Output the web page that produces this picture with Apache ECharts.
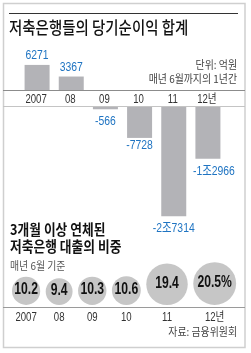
<!DOCTYPE html>
<html>
<head>
<meta charset="utf-8">
<script src="https://cdn.jsdelivr.net/npm/echarts@6/dist/echarts.min.js"></script>
<style>
  html, body { margin: 0; padding: 0; background: #fff; }
  #chart { width: 251px; height: 353px; }
</style>
</head>
<body>
<div id="chart"></div>
<script>
// 당기순이익 (억원), 매년 6월까지의 1년간
const incomeYears = ['2007', '08', '09', '10', '11', '12년'];
const netIncome = [6271, 3367, -566, -7728, -27314, -12966];

// 3개월 이상 연체 대출 비중 (%), 매년 6월 기준
const shareYears = ['2007', '08', '09', '10', '11', '12년'];
const shareValues = [10.2, 9.4, 10.3, 10.6, 19.4, 20.5];

const NUM = "'Liberation Sans', Arial, 'Noto Sans CJK KR', sans-serif";
const KR = "'Noto Sans CJK KR', sans-serif";
const BLUE = '#1f74c2';
const BAR = '#b3b3b7';
const BUBBLE = '#c6c6c6';

function fmtWon(v) {
  const a = Math.abs(v);
  const s = v < 0 ? '-' : '';
  if (a >= 10000) return s + Math.floor(a / 10000) + '조' + (a % 10000);
  return s + a;
}

// bubble diameter from value, bubbles packed left to right
function bubbleSize(v) {
  return 7 * Math.pow(v, 0.6);
}
const bubbleGap = 5.5;
const bubbleX = [];
let edge = 12;
shareValues.forEach(v => {
  const d = bubbleSize(v);
  bubbleX.push(edge + d / 2);
  edge += d + bubbleGap;
});

function txt(text, x, y, opts) {
  opts = opts || {};
  const align = opts.align || 'left';
  return {
    type: 'text',
    x: x,
    y: y,
    scaleX: opts.scaleX || 1,
    z: 10,
    style: {
      text: text,
      fill: opts.color || '#222',
      fontSize: opts.size || 11,
      fontFamily: opts.family || KR,
      fontWeight: opts.weight || 'normal',
      align: align,
      textAlign: align,
      verticalAlign: 'middle',
      textVerticalAlign: 'middle'
    }
  };
}

function hline(y, x1, x2, color, w) {
  return {
    type: 'line',
    shape: { x1: x1, y1: y, x2: x2, y2: y },
    style: { stroke: color, lineWidth: w || 1 },
    z: 1
  };
}

const chart = echarts.init(document.getElementById('chart'), null, { renderer: 'canvas' });

const option = {
  backgroundColor: '#fff',
  animation: false,
  grid: [
    { left: 20, width: 205, top: 60, height: 30 },
    { left: 20, width: 205, top: 107, height: 120 },
    { left: 0, width: 251, top: 250, height: 55 }
  ],
  xAxis: [
    { gridIndex: 0, type: 'category', data: incomeYears, show: false },
    { gridIndex: 1, type: 'category', data: incomeYears, show: false },
    { gridIndex: 2, type: 'value', min: 0, max: 251, show: false }
  ],
  yAxis: [
    { gridIndex: 0, type: 'value', min: 0, max: 7500, show: false },
    { gridIndex: 1, type: 'value', min: -30000, max: 0, show: false },
    { gridIndex: 2, type: 'value', min: 0, max: 1, show: false }
  ],
  series: [
    {
      type: 'bar', xAxisIndex: 0, yAxisIndex: 0, barWidth: 25,
      itemStyle: { color: BAR },
      data: netIncome.map(v => (v > 0 ? v : '-'))
    },
    {
      type: 'bar', xAxisIndex: 1, yAxisIndex: 1, barWidth: 25,
      itemStyle: { color: BAR },
      data: netIncome.map(v => (v < 0 ? v : '-'))
    },
    {
      type: 'scatter', xAxisIndex: 2, yAxisIndex: 2,
      itemStyle: { color: BUBBLE, opacity: 1 },
      data: shareValues.map((v, i) => {
        const d = bubbleSize(v);
        return { value: [bubbleX[i], 0], symbolSize: d, symbolOffset: [0, -d / 2] };
      })
    }
  ]
};

chart.setOption(option);

// labels drawn as text elements (narrowed), placed through the axes
const labels = [];
netIncome.forEach((v, i) => {
  const pos = v > 0;
  const p = chart.convertToPixel({ xAxisIndex: pos ? 0 : 1, yAxisIndex: pos ? 0 : 1 }, [i, v]);
  let y = pos ? p[1] - 9.5 : p[1] + 12.5;
  let x = p[0];
  if (i === 3) y -= 5;
  if (i === 5) x += 6;
  labels.push(txt(fmtWon(v), x, y, { align: 'center', size: 13, scaleX: 0.8, color: BLUE, family: NUM }));
  const base = chart.convertToPixel({ xAxisIndex: 0, yAxisIndex: 0 }, [i, 0]);
  labels.push(txt(incomeYears[i], base[0] - 1, base[1] + 10, { align: 'center', size: 12, scaleX: 0.8, color: '#333', family: NUM }));
});
shareValues.forEach((v, i) => {
  const d = bubbleSize(v);
  const p = chart.convertToPixel({ xAxisIndex: 2, yAxisIndex: 2 }, [bubbleX[i], 0]);
  const t = v.toFixed(1) + (i === shareValues.length - 1 ? '%' : '');
  labels.push(txt(t, p[0], p[1] - d / 2 - 1, { align: 'center', size: 16, scaleX: 0.76, color: '#111', weight: 'bold', family: NUM }));
  labels.push(txt(shareYears[i], p[0], p[1] + 13, { align: 'center', size: 12, scaleX: 0.8, color: '#333', family: NUM }));
});

const decor = [
  {
    type: 'rect', z: 0,
    shape: { x: 3.5, y: 3.5, width: 241.5, height: 344 },
    style: { fill: 'none', stroke: '#cfcfcf', lineWidth: 1.5 }
  },
  hline(13.5, 9, 238, '#333', 1),
  txt('저축은행들의 당기순이익 합계', 9, 28, { size: 17, scaleX: 0.85, color: '#111', weight: 500 }),
  txt('단위: 억원', 237, 65, { align: 'right', size: 11, scaleX: 0.9, color: '#444' }),
  txt('매년 6월까지의 1년간', 237, 79, { align: 'right', size: 11, scaleX: 0.9, color: '#444' }),
  hline(90.5, 3, 245, '#8c8c8c', 1),
  hline(106.5, 3, 245, '#c4c4c4', 1),
  txt('3개월 이상 연체된', 10, 229, { size: 15, scaleX: 0.85, color: '#111', weight: 'bold' }),
  txt('저축은행 대출의 비중', 10, 246, { size: 15, scaleX: 0.85, color: '#111', weight: 'bold' }),
  txt('매년 6월 기준', 10, 266, { size: 11, scaleX: 0.9, color: '#555' }),
  hline(307.5, 3, 245, '#9a9a9a', 1),
  txt('자료: 금융위원회', 237, 332, { align: 'right', size: 11, scaleX: 0.9, color: '#444' })
];

chart.setOption({ graphic: decor.concat(labels) });
</script>
</body>
</html>
